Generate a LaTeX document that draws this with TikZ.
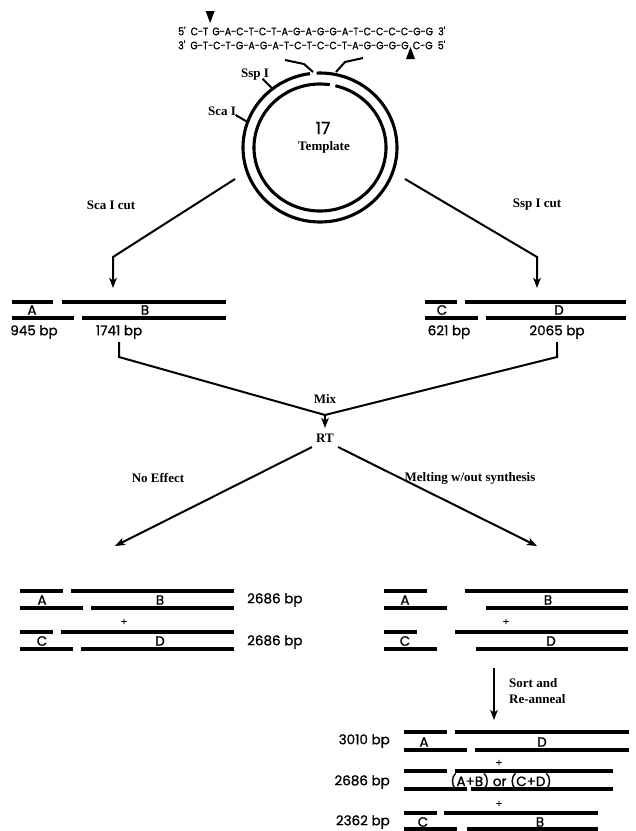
\documentclass[tikz,border=0pt]{standalone}
\usepackage{fontspec}
\setmainfont{Liberation Serif}
\newfontfamily\geo{Poppins}[FakeBold=1]
\usetikzlibrary{arrows.meta,calc}

\tikzset{
  strand/.style={line width=3.3pt},
  conn/.style={line width=2pt},
  arr/.style={conn, -{Stealth[length=10pt,width=7.5pt,inset=2.5pt]}},
  lab/.style={font=\geo\fontsize{13.5}{14}\selectfont, inner sep=0pt},
  plus/.style={font=\geo\fontsize{10}{11}\selectfont, inner sep=0pt},
  seri/.style={font=\bfseries\fontsize{13}{14}\selectfont, inner sep=0pt},
  ring/.style={line width=3.1pt},
}
\newcommand\seg[3]{\draw[strand] (#1,#3) -- (#2,#3);}
\newcommand\seqone{5'\hspace{.55em}C-T\hspace{.45em}G-A-C-T-C-T-A-G-A-G-G-A-T-C-C-C-C-G-G\hspace{.55em}3'}
\newcommand\seqtwo{3'\hspace{.55em}G-T-C-T-G-A-G-A-T-C-T-C-C-T-A-G-G-G-G\hspace{.45em}C-G\hspace{.55em}5'}
\newlength\seqpart
\newlength\seqfull

\begin{document}
% positions of the two nicks inside the scaled sequence lines
\settowidth\seqfull{\geo\seqone}%
\settowidth\seqpart{\geo 5'\hspace{.55em}C-T\hspace{.225em}}%
\pgfmathsetmacro\cutA{178+267*(\seqpart/\seqfull)}%
\settowidth\seqfull{\geo\seqtwo}%
\settowidth\seqpart{\geo 3'\hspace{.55em}G-T-C-T-G-A-G-A-T-C-T-C-C-T-A-G-G-G-G\hspace{.225em}}%
\pgfmathsetmacro\cutB{178+267*(\seqpart/\seqfull)}%
\begin{tikzpicture}[x=1pt,y=-1pt]
\useasboundingbox (0,0) rectangle (636,831);

% ---- linker sequence with cut sites
\node[anchor=west,inner sep=0pt] (seqtop) at (178,31)
  {\resizebox{267pt}{8.5pt}{\geo\seqone}};
\node[anchor=west,inner sep=0pt] (seqbot) at (178,45)
  {\resizebox{267pt}{8.5pt}{\geo\seqtwo}};
\fill (\cutA-4.5,11) -- (\cutA+4.5,11) -- (\cutA,23) -- cycle;
\fill (\cutB-4.5,59) -- (\cutB+4.5,59) -- (\cutB,47) -- cycle;

% ---- circular template
\coordinate (cc) at (320,147.5);
\draw[ring] ($(cc)+(267.5:77 and 74.5)$) arc[start angle=267.5, end angle=622.5, x radius=77, y radius=74.5];
\draw[ring] ($(cc)+(283.5:66 and 63.5)$) arc[start angle=283.5, end angle=638.5, x radius=66, y radius=63.5];
\draw[conn] (285,60) -- (304,64) -- (313,72);
\draw[conn] (336,72) -- (345,62) -- (363,58);

\draw[conn] ($(cc)+(200:77 and 74.5)$) -- ++(-12,-7);
\node[seri] (sca) at (222,111) {Sca I};
\draw[conn] ($(cc)+(232:77 and 74.5)$) -- ++(-10,-10);
\node[seri] (ssp) at (255,75) {Ssp I};
\node[font=\geo\fontsize{17}{18}\selectfont, inner sep=0pt] (num) at (323,128) {17};
\node[seri] (tmpl) at (324,147) {Template};

% ---- digestion
\coordinate (cutL) at (235,179);
\coordinate (bendL) at (113,257);
\coordinate (tipL) at (113,288);
\coordinate (cutR) at (405,179);
\coordinate (bendR) at (537,257);
\coordinate (tipR) at (537,288);
\draw[arr] (cutL) -- (bendL) -- (tipL);
\draw[arr] (cutR) -- (bendR) -- (tipR);
\node[seri] (scacut) at (111,205) {Sca I cut};
\node[seri] (sspcut) at (537,205) {Ssp I cut};

% fragments A / B
\seg{12}{53}{302} \seg{62}{226}{302}
\seg{12}{74}{318} \seg{82}{226}{318}
\node[lab] (fa) at (32,310) {A};
\node[lab] (fb) at (145,310) {B};
\node[lab] (bpa) at (34,332) {945 bp};
\node[lab] (bpb) at (119,332) {1741 bp};
% fragments C / D
\seg{425}{457}{302} \seg{465}{626}{302}
\seg{425}{478}{318} \seg{486}{626}{318}
\node[lab] (fc) at (442,310) {C};
\node[lab] (fd) at (559,310) {D};
\node[lab] (bpc) at (449,332) {621 bp};
\node[lab] (bpd) at (557,332) {2065 bp};

% ---- mixing
\coordinate (vx) at (325,415);
\draw[conn] (119,342) -- (119,357) -- (vx) -- (557,357) -- (557,342);
\node[seri] (mix) at (325,399) {Mix};
\coordinate (rtTip) at (325,428);
\draw[arr] (vx) -- (rtTip);
\node[seri] (rt) at (325,438) {RT};
\coordinate (noTip) at (115,546);
\coordinate (meTip) at (537,546);
\draw[arr] (312,447) -- (noTip);
\draw[arr] (338,447) -- (meTip);
\node[seri] (noeff) at (158,478) {No Effect};
\node[seri] (melt) at (470,478) {Melting w/out synthesis};

% ---- no effect products
\seg{20}{63}{591} \seg{71}{234}{591}
\seg{20}{83}{608} \seg{91}{234}{608}
\node[lab] at (42,600) {A};
\node[lab] at (160,600) {B};
\node[lab,anchor=west] at (247,600) {2686 bp};
\node[plus] at (124,622) {+};
\seg{20}{53}{632} \seg{61}{234}{632}
\seg{20}{73}{649} \seg{81}{234}{649}
\node[lab] at (42,641) {C};
\node[lab] at (160,641) {D};
\node[lab,anchor=west] at (247,642) {2686 bp};

% ---- melted strands
\seg{384}{427}{591} \seg{465}{628}{591}
\seg{384}{447}{608} \seg{486}{628}{608}
\node[lab] at (405,600) {A};
\node[lab] at (548,600) {B};
\node[plus] at (506,622) {+};
\seg{384}{417}{632} \seg{455}{628}{632}
\seg{384}{437}{649} \seg{476}{628}{649}
\node[lab] at (405,641) {C};
\node[lab] at (551,641) {D};

\coordinate (sortTop) at (494,668);
\coordinate (sortTip) at (494,720);
\draw[arr] (sortTop) -- (sortTip);
\node[seri,anchor=west] at (509,683) {Sort and};
\node[seri,anchor=west] at (509,699) {Re-anneal};

% ---- re-annealed products
\seg{404}{447}{732} \seg{455}{629}{732}
\seg{404}{467}{750} \seg{475}{629}{750}
\node[lab] at (424,742) {A};
\node[lab] at (542,742) {D};
\node[lab,anchor=east] at (390,741) {3010 bp};
\node[plus] at (499,763) {+};
\seg{404}{447}{771} \seg{455}{613}{771}
\seg{404}{467}{789} \seg{471}{613}{789}
\node[lab] at (501,781) {(A+B) or (C+D)};
\node[lab,anchor=east] at (390,782) {2686 bp};
\node[plus] at (499,804) {+};
\seg{404}{437}{813} \seg{444}{598}{813}
\seg{404}{457}{829} \seg{467}{598}{829}
\node[lab] at (423,822) {C};
\node[lab] at (540,822) {B};
\node[lab,anchor=east] at (390,822) {2362 bp};
\end{tikzpicture}
\end{document}
